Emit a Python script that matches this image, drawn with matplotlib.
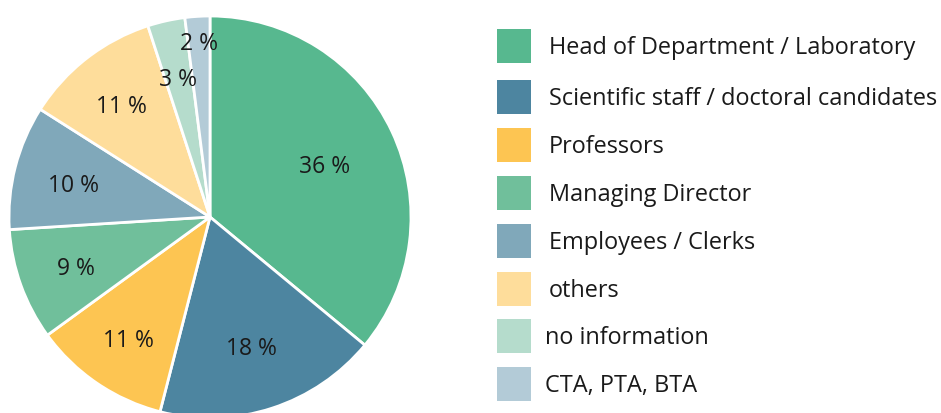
import numpy as np
import matplotlib.pyplot as plt
from matplotlib.patches import Rectangle

# --- data ---
categories = ["Head of Department / Laboratory", "Scientific staff / doctoral candidates",
              "Professors", "Managing Director", "Employees / Clerks", "others",
              "no information", "CTA, PTA, BTA"]
shares = [36, 18, 11, 9, 10, 11, 3, 2]
colors = ["#57b88f", "#4d85a0", "#fdc552", "#70bf9b", "#80a8ba", "#fedd9b",
          "#b5dccc", "#b3cbd7"]

plt.rcParams['font.family'] = ['Open Sans', 'DejaVu Sans']

W, H = 941, 413
fig = plt.figure(figsize=(W / 100, H / 100), dpi=100)

# --- pie axes placed in pixel coords (center 210,217 from top, r=201) ---
cx, cy, r = 210, 217, 201
ax = fig.add_axes([(cx - r) / W, (H - cy - r) / H, 2 * r / W, 2 * r / H])
wedges, _ = ax.pie(shares, colors=colors, startangle=90, counterclock=False,
                   radius=1, wedgeprops=dict(edgecolor="white", linewidth=2))
for w in wedges:
    w.set_clip_on(False)
ax.set_xlim(-1, 1)
ax.set_ylim(-1, 1)
ax.set_aspect("equal")
ax.axis("off")

# labels at per-slice distance (small downward nudge: va=center sits a bit high)
label_dist = [0.63, 0.67, 0.72, 0.71, 0.70, 0.72, 0.72, 0.88]
dy = -4 / r
for w, val, d in zip(wedges, shares, label_dist):
    ang = np.deg2rad((w.theta1 + w.theta2) / 2)
    ax.text(d * np.cos(ang), d * np.sin(ang) + dy, f"{val} %", ha="center",
            va="center", fontsize=16.5, color="#1a1a1a")

# --- manual legend ---
row_y = [46, 97, 145, 193, 241, 289, 336, 384]
text_x = [549, 549, 549, 549, 549, 549, 545, 545]
for lab, col, y, tx in zip(categories, colors, row_y, text_x):
    fig.patches.append(Rectangle(((497) / W, (H - y - 17) / H), 34 / W, 34 / H,
                                 transform=fig.transFigure, facecolor=col,
                                 edgecolor="none"))
    fig.text(tx / W, (H - y - 2) / H, lab, ha="left", va="center", fontsize=16.9,
             color="#1a1a1a")

fig.savefig("out.png", dpi=100)
